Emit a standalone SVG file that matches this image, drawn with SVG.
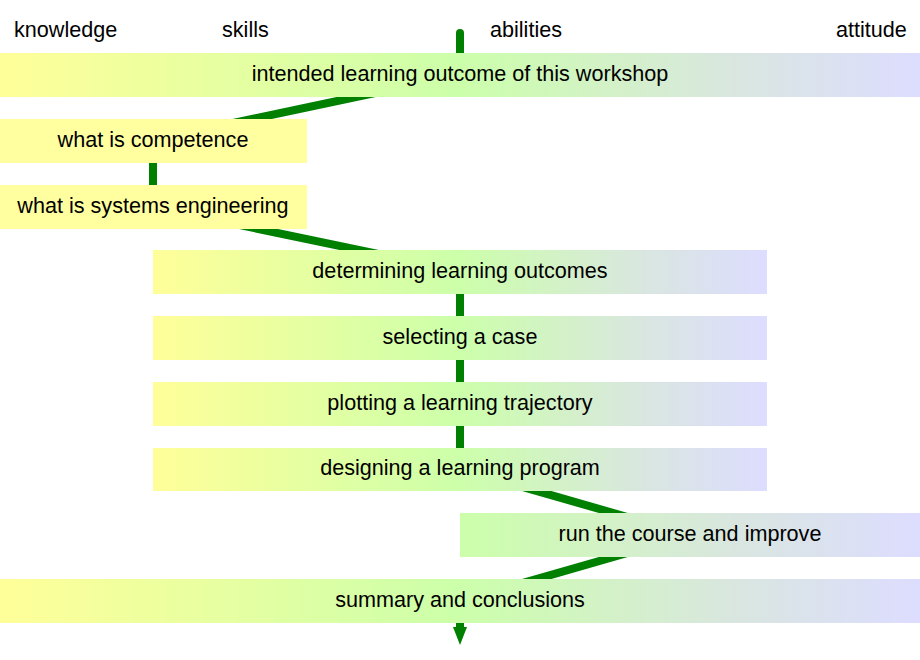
<svg xmlns="http://www.w3.org/2000/svg" width="920" height="660" viewBox="0 0 920 660">
<defs>
<linearGradient id="full" x1="0" y1="0" x2="1" y2="0">
<stop offset="0" stop-color="#ffff99"/>
<stop offset="0.5" stop-color="#ccffaa"/>
<stop offset="0.8" stop-color="#d9e6e0"/>
<stop offset="1" stop-color="#ddddff"/>
</linearGradient>
<linearGradient id="half" x1="0" y1="0" x2="1" y2="0">
<stop offset="0" stop-color="#ccffaa"/>
<stop offset="0.6" stop-color="#d9e6e0"/>
<stop offset="1" stop-color="#ddddff"/>
</linearGradient>
</defs>
<style>
text{font-family:"Liberation Sans",Arial,sans-serif;font-size:21.6px;fill:#000}
.lbl{text-anchor:middle}
.c{stroke:#008000;stroke-width:8;fill:none}
</style>
<g id="headers">
<text x="14" y="37">knowledge</text>
<text x="222" y="37">skills</text>
<text x="490" y="37">abilities</text>
<text x="836" y="37">attitude</text>
</g>
<g id="connectors">
<line class="c" x1="460" y1="33" x2="460" y2="75" stroke-linecap="round"/>
<line class="c" x1="460" y1="75" x2="153" y2="140"/>
<line class="c" x1="153" y1="140" x2="153" y2="207"/>
<line class="c" x1="153" y1="207" x2="460" y2="271"/>
<line class="c" x1="460" y1="271" x2="460" y2="469"/>
<line class="c" x1="460" y1="469" x2="690" y2="535"/>
<line class="c" x1="690" y1="535" x2="460" y2="601"/>
<line class="c" x1="460" y1="601" x2="460" y2="628"/>
<path d="M453,627 L467,627 L460,645 Z" fill="#008000"/>
</g>
<g id="n-intended">
<rect x="0" y="53" width="920" height="44" fill="url(#full)"/>
<text class="lbl" x="460" y="81">intended learning outcome of this workshop</text>
</g>
<g id="n-competence">
<rect x="0" y="119" width="307" height="44" fill="#ffffa0"/>
<text class="lbl" x="153" y="147">what is competence</text>
</g>
<g id="n-systems">
<rect x="0" y="185" width="307" height="44" fill="#ffffa0"/>
<text class="lbl" x="153" y="213">what is systems engineering</text>
</g>
<g id="n-determining">
<rect x="153" y="250" width="614" height="44" fill="url(#full)"/>
<text class="lbl" x="460" y="278">determining learning outcomes</text>
</g>
<g id="n-selecting">
<rect x="153" y="316" width="614" height="44" fill="url(#full)"/>
<text class="lbl" x="460" y="344">selecting a case</text>
</g>
<g id="n-plotting">
<rect x="153" y="382" width="614" height="44" fill="url(#full)"/>
<text class="lbl" x="460" y="410">plotting a learning trajectory</text>
</g>
<g id="n-designing">
<rect x="153" y="448" width="614" height="43" fill="url(#full)"/>
<text class="lbl" x="460" y="475">designing a learning program</text>
</g>
<g id="n-run">
<rect x="460" y="513" width="460" height="44" fill="url(#half)"/>
<text class="lbl" x="690" y="541">run the course and improve</text>
</g>
<g id="n-summary">
<rect x="0" y="579" width="920" height="44" fill="url(#full)"/>
<text class="lbl" x="460" y="607">summary and conclusions</text>
</g>
</svg>
